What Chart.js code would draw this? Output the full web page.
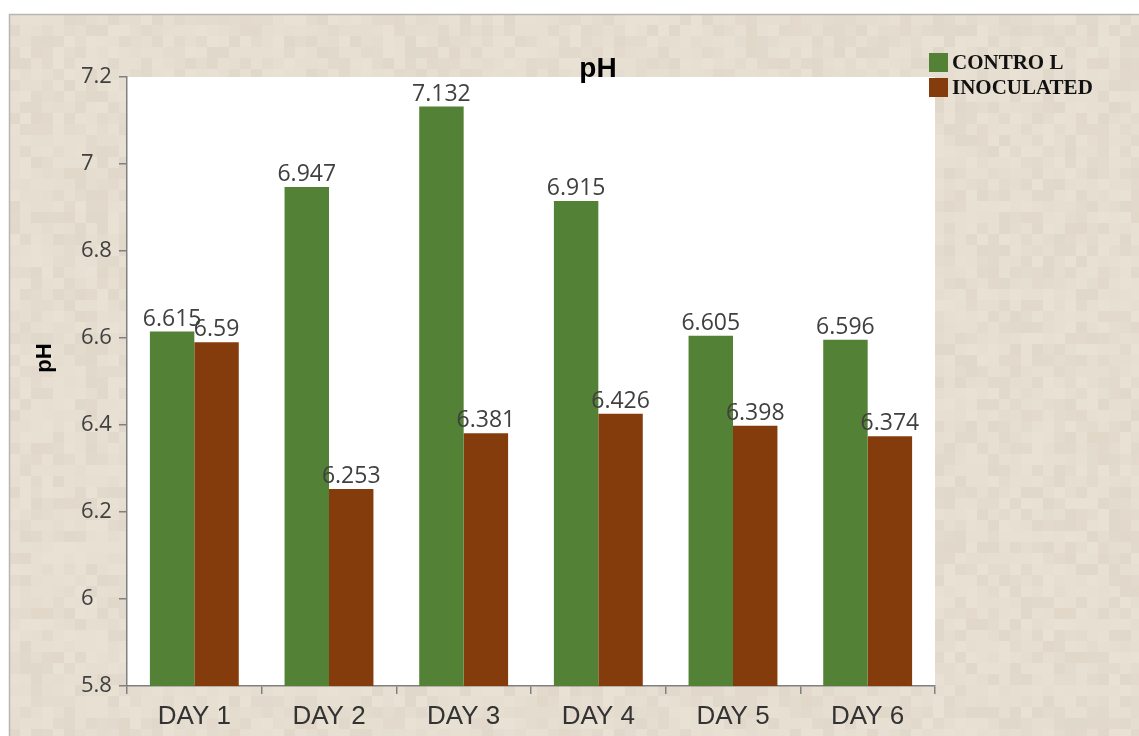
<!DOCTYPE html>
<html>
<head>
<meta charset="utf-8">
<script src="https://cdn.jsdelivr.net/npm/chart.js@4.4.0/dist/chart.umd.min.js"></script>
<style>
  body { margin: 0; background: #fff; }
  #wrap { width: 1139px; height: 736px; }
</style>
</head>
<body>
<div id="wrap"><canvas id="chart"></canvas></div>
<script>
const days = ["DAY 1", "DAY 2", "DAY 3", "DAY 4", "DAY 5", "DAY 6"];
const control = [6.615, 6.947, 7.132, 6.915, 6.605, 6.596];
const inoculated = [6.59, 6.253, 6.381, 6.426, 6.398, 6.374];
const seriesNames = ["CONTRO L", "INOCULATED"];
const seriesColors = ["#538135", "#843c0c"];

// page background (beige paper with a faint blocky grain), frame and white plot area
const backdrop = {
  id: "backdrop",
  beforeDraw(chart) {
    const c = chart.ctx, a = chart.chartArea;
    c.save();
    c.fillStyle = "#ffffff";
    c.fillRect(0, 0, chart.width, chart.height);
    c.fillStyle = "#e6ded1";
    c.fillRect(9, 14, chart.width - 9, chart.height - 14);
    const cell = 11;
    for (let y = 14; y < chart.height; y += cell) {
      for (let x = 9; x < chart.width; x += cell) {
        const h = ((x * 73856093) ^ (y * 19349663)) >>> 0;
        const k = (h % 17) - 8;
        if (k === 0) continue;
        c.fillStyle = k > 0 ? "rgba(255,250,240," + (k * 0.015) + ")" : "rgba(170,155,135," + (-k * 0.012) + ")";
        c.fillRect(x, y, cell, cell);
      }
    }
    c.strokeStyle = "#b9b6b1";
    c.lineWidth = 1.5;
    c.beginPath();
    c.moveTo(9.5, chart.height);
    c.lineTo(9.5, 14.5);
    c.lineTo(chart.width, 14.5);
    c.stroke();
    c.fillStyle = "#ffffff";
    c.fillRect(a.left, a.top, a.right - a.left, a.bottom - a.top);
    c.restore();
  }
};

// value labels above each bar
const barValues = {
  id: "barValues",
  afterDatasetsDraw(chart) {
    const c = chart.ctx;
    c.save();
    c.font = "23px 'Open Sans'";
    c.fillStyle = "#404040";
    c.textAlign = "center";
    c.textBaseline = "bottom";
    chart.data.datasets.forEach(function (ds, i) {
      chart.getDatasetMeta(i).data.forEach(function (bar, j) {
        c.fillText(String(ds.data[j]), bar.x, bar.y - 1);
      });
    });
    c.restore();
  }
};

// title, y axis title and legend sit outside the usual layout boxes
const titleLegend = {
  id: "titleLegend",
  afterDraw(chart) {
    const c = chart.ctx;
    c.save();
    c.fillStyle = "#000";
    c.textAlign = "center";
    c.textBaseline = "alphabetic";
    c.font = "bold 28px 'Liberation Sans'";
    c.fillText("pH", 598, 77);

    c.save();
    c.translate(45, 358);
    c.rotate(-Math.PI / 2);
    c.textBaseline = "middle";
    c.font = "bold 22px 'Liberation Sans'";
    c.fillText("pH", 0, 0);
    c.restore();

    c.textAlign = "left";
    c.font = "bold 21px 'Liberation Serif'";
    seriesNames.forEach(function (name, i) {
      const y = 53 + i * 25;
      c.fillStyle = seriesColors[i];
      c.fillRect(929, y, 19, 19);
      c.fillStyle = "#111";
      c.fillText(name, 952, y + 16);
    });
    c.restore();
  }
};

new Chart(document.getElementById("chart"), {
  type: "bar",
  data: {
    labels: days,
    datasets: [
      { label: seriesNames[0], data: control, backgroundColor: seriesColors[0] },
      { label: seriesNames[1], data: inoculated, backgroundColor: seriesColors[1] }
    ]
  },
  options: {
    responsive: true,
    maintainAspectRatio: false,
    animation: false,
    categoryPercentage: 0.66,
    barPercentage: 1.0,
    layout: { padding: { top: 77, right: 204, left: 81, bottom: 0 } },
    plugins: {
      legend: { display: false },
      title: { display: false },
      tooltip: { enabled: false }
    },
    scales: {
      x: {
        afterFit(scale) { scale.height = 50; },
        border: { color: "#808080", width: 1.5 },
        grid: { offset: true, drawOnChartArea: false, tickLength: 8, color: "#808080", lineWidth: 1.5 },
        ticks: { color: "#333", font: { family: "'Liberation Sans'", size: 26 }, padding: 7 }
      },
      y: {
        min: 5.8,
        max: 7.2,
        afterFit(scale) { scale.width = 46; },
        border: { color: "#808080", width: 1.5 },
        grid: { drawOnChartArea: false, tickLength: 8, color: "#808080", lineWidth: 1.5 },
        ticks: {
          stepSize: 0.2,
          crossAlign: "far",
          color: "#404040",
          font: { family: "'Open Sans'", size: 22 },
          callback: function (v) { return String(Number(v.toFixed(1))); }
        }
      }
    }
  },
  plugins: [backdrop, barValues, titleLegend]
});
</script>
</body>
</html>
